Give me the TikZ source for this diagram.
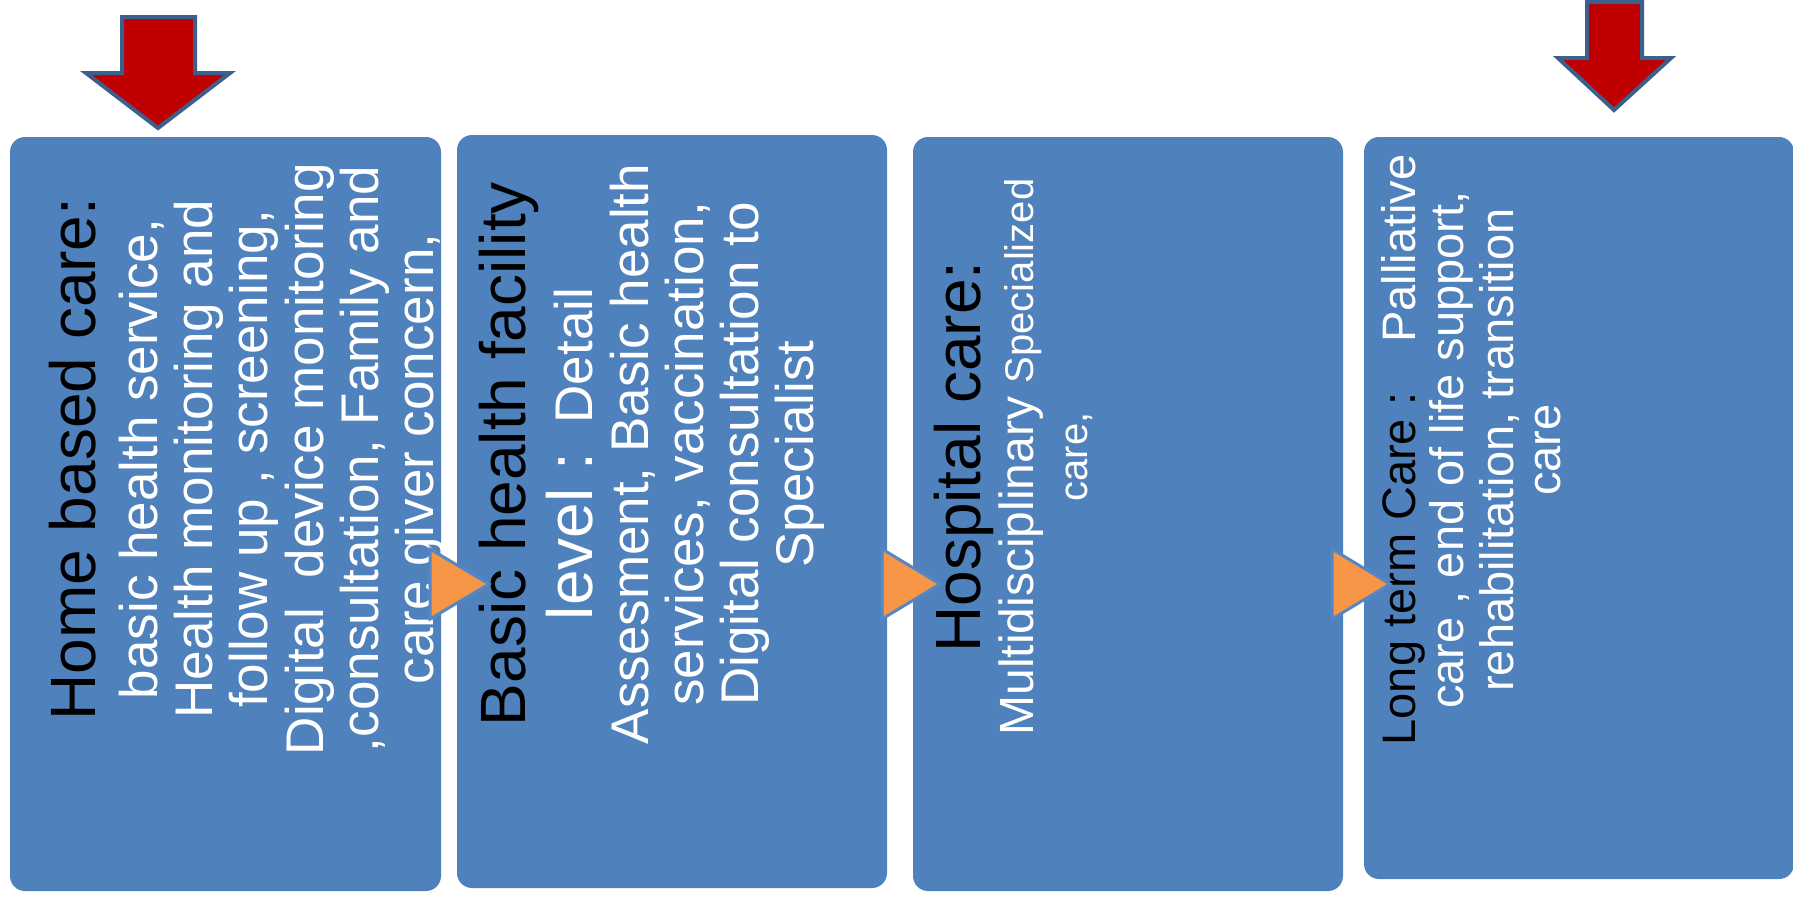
\documentclass[tikz,border=0pt]{standalone}
\usepackage{fontspec}
\setmainfont{Liberation Sans}
\definecolor{boxblue}{RGB}{79,129,189}
\definecolor{arrowred}{RGB}{192,0,0}
\definecolor{arrowedge}{RGB}{60,95,140}
\definecolor{triorange}{RGB}{247,150,70}
\definecolor{triedge}{RGB}{86,135,194}
\begin{document}
\begin{tikzpicture}[x=1pt,y=1pt,
  panel/.style={fill=boxblue, rounded corners=15pt, draw=none, inner sep=0pt},
  ttl/.style={rotate=90, anchor=base, inner sep=0pt, text=black, font=\fontsize{64}{70}\selectfont},
  bodyline/.style={rotate=90, anchor=base, inner sep=0pt, text=white, font=\fontsize{53}{60}\selectfont},
  ltline/.style={rotate=90, anchor=base, inner sep=0pt, text=white, font=\fontsize{47}{54}\selectfont},
  chevron/.style={fill=triorange, draw=triedge, line width=3pt, line join=miter},
  redarrow/.style={fill=arrowred, draw=arrowedge, line width=4pt, line join=miter}
]
\useasboundingbox (0,0) rectangle (1793,-898);

% panels
\node[panel, minimum width=431pt, minimum height=754pt] (b1) at (225.5,-514) {};
\node[panel, minimum width=430pt, minimum height=753pt] (b2) at (672,-511.5) {};
\node[panel, minimum width=430pt, minimum height=754pt] (b3) at (1128,-514) {};
\node[panel, minimum width=430pt, minimum height=742pt] (b4) at (1579,-508) {};

% panel 1 text
\node[ttl] (h1) at (95,-459) {Home based care:};
\node[bodyline] (h1a) at (157,-459) {basic health service,};
\node[bodyline] (h1b) at (212,-459) {Health monitoring and};
\node[bodyline] (h1c) at (267,-459) {follow up , screening,};
\node[bodyline] (h1d) at (323,-459) {Digital\ \ device monitoring};
\node[bodyline] (h1e) at (378,-459) {,consultation, Family and};
\node[bodyline] (h1f) at (433,-459) {care giver concern,};

% panel 2 text
\node[ttl] (h2) at (525,-454) {Basic health facility};
\node[ttl, text=white] (h2a) at (592,-454) {level :{\fontsize{53}{60}\selectfont\ \ Detail}};
\node[bodyline] (h2b) at (648,-454) {Assesment, Basic health};
\node[bodyline] (h2c) at (703,-454) {services, vaccination,};
\node[bodyline] (h2d) at (758,-454) {Digital consultation to};
\node[bodyline] (h2e) at (813,-454) {Specialist};

% panel 3 text
\node[ttl] (h3) at (980,-457) {Hospital care:};
\node[bodyline, font=\fontsize{48}{56}\selectfont] (h3a) at (1033,-457) {Multidisciplinary {\fontsize{40}{48}\selectfont Specialized}};
\node[bodyline, font=\fontsize{40}{48}\selectfont] (h3b) at (1087,-457) {care,};

% panel 4 text
\node[ltline] (h4) at (1415,-450) {\textcolor{black}{Long term Care :}\hspace{50pt}Palliative};
\node[ltline] (h4a) at (1463,-450) {care , end of life support,};
\node[ltline] (h4b) at (1513,-450) {rehabilitation, transition};
\node[ltline] (h4c) at (1560,-450) {care};

% chevrons between panels
\draw[chevron] (430,-549) -- (430,-619) -- (489,-584) -- cycle;
\draw[chevron] (882,-549) -- (882,-619) -- (940,-584) -- cycle;
\draw[chevron] (1332,-549) -- (1332,-619) -- (1390,-584) -- cycle;

% red down arrows
\draw[redarrow] (122,-17) -- (195,-17) -- (195,-73) -- (230,-73) -- (158,-128) -- (86,-73) -- (122,-73) -- cycle;
\draw[redarrow] (1587,-2) -- (1642,-2) -- (1642,-58) -- (1671,-58) -- (1614,-110) -- (1558,-58) -- (1587,-58) -- cycle;
\end{tikzpicture}
\end{document}
